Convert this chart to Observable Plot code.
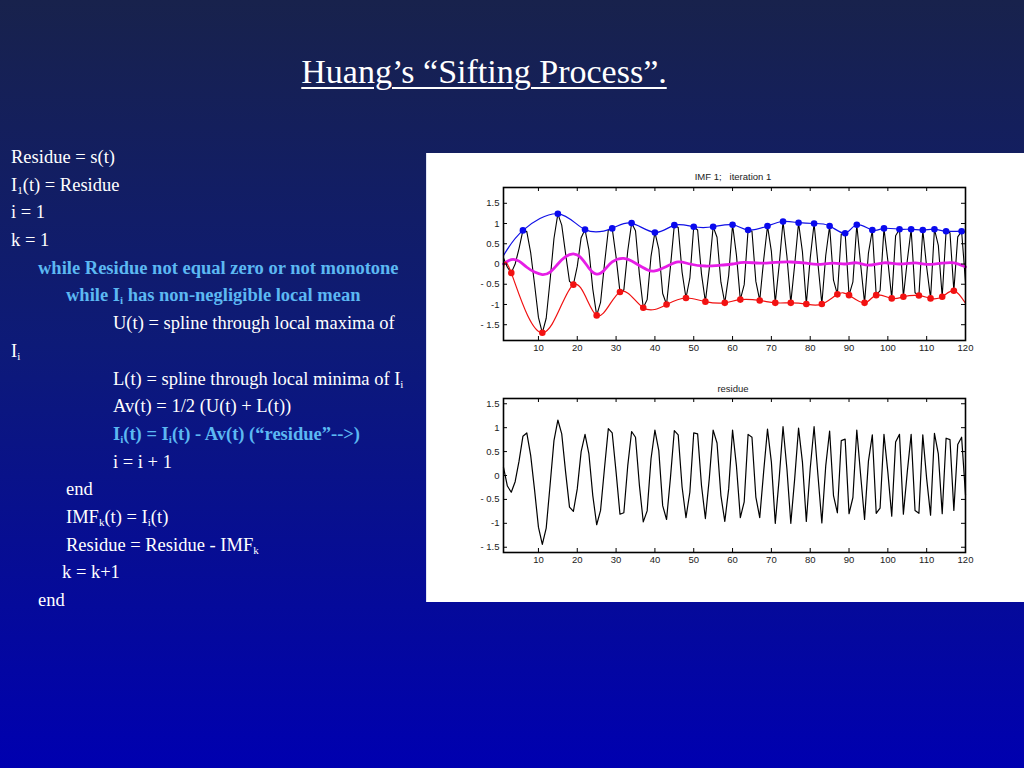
<!DOCTYPE html>
<html><head><meta charset="utf-8">
<script src="https://cdn.jsdelivr.net/npm/d3@7"></script>
<script src="https://cdn.jsdelivr.net/npm/@observablehq/plot@0.6"></script>
<style>
html,body{margin:0;padding:0;}
body{width:1024px;height:768px;overflow:hidden;background:linear-gradient(to bottom,#18224c 0%,#0d1a78 45%,#0000b0 100%);font-family:"Liberation Serif","Times New Roman",serif;}
#slide{position:relative;width:1024px;height:768px;}
.title{position:absolute;left:0;width:968px;top:55px;text-align:center;color:#fff;font-size:34px;line-height:34px;text-decoration:underline;text-decoration-thickness:1.5px;text-underline-offset:4px;}
.line{position:absolute;color:#fff;font-size:18.5px;line-height:18.5px;white-space:nowrap;}
.line sub{font-size:0.6em;vertical-align:-0.25em;line-height:0;}
.blue{color:#5cb8f2;font-weight:bold;}
#panel{position:absolute;left:426px;top:153px;width:598px;height:449px;background:#fff;box-shadow:inset 1px 0 0 #dfe4f4;}
.ptitle{position:absolute;left:0;width:614px;text-align:center;font-family:"Liberation Sans",Arial,sans-serif;font-size:9.5px;color:#222;white-space:pre;}
#c1,#c2{position:absolute;left:0;}
#c1{top:12px;} #c2{top:224px;}
</style></head>
<body><div id="slide">
<div class="title">Huang’s “Sifting Process”.</div>
<div id="text"></div>
<div id="panel">
  <div class="ptitle" style="top:18px">IMF 1;   iteration 1</div>
  <div id="c1"></div>
  <div class="ptitle" style="top:230px">residue</div>
  <div id="c2"></div>
</div>
</div>
<script>
// ---- data ----
const tValues = d3.range(1, 121);
const signal = [0.15,-0.08,-0.22,0.0,0.38,0.83,0.80,0.28,-0.5,-1.32,
 -1.70,-1.34,-0.4,0.63,1.24,0.96,0.25,-0.43,-0.51,-0.06,
 0.65,0.85,0.35,-0.62,-1.27,-0.95,-0.01,0.84,0.88,0.17,
 -0.69,-0.64,0.32,1.01,0.82,-0.25,-1.08,-0.88,0.19,0.78,
 0.37,-0.73,-1.0,-0.07,0.96,0.9,-0.2,-0.84,-0.35,0.92,
 0.84,-0.25,-0.93,-0.12,0.92,0.66,-0.45,-0.96,-0.28,0.97,
 0.22,-0.88,-0.51,0.84,0.81,-0.43,-0.90,0.09,0.94,0.31,
 -0.96,-0.03,1.05,0.19,-0.96,-0.02,1.02,0.3,-0.99,0.14,
 1.0,0.0,-0.99,0.21,0.94,-0.4,-0.75,0.74,0.76,-0.77,
 -0.44,0.97,-0.02,-0.96,0.27,0.84,-0.77,-0.66,0.88,0.08,
 -0.85,0.7,0.86,-0.81,0.08,0.86,-0.71,-0.78,0.84,-0.08,
 -0.85,0.86,0.46,-0.81,0.81,0.77,-0.66,0.67,0.81,-0.45];
const residue = [0.17,-0.22,-0.35,-0.13,0.3,0.82,0.89,0.42,-0.3,-1.08,
 -1.44,-1.1,-0.2,0.73,1.16,0.87,0.07,-0.66,-0.75,-0.28,
 0.5,0.86,0.45,-0.42,-1.03,-0.73,0.14,0.98,0.89,0.07,
 -0.81,-0.78,0.2,0.92,0.8,-0.2,-0.97,-0.74,0.35,0.95,
 0.52,-0.63,-0.92,-0.05,0.94,0.85,-0.24,-0.88,-0.35,0.89,
 0.87,-0.21,-0.9,-0.07,0.95,0.68,-0.42,-0.96,-0.28,0.95,
 0.2,-0.88,-0.55,0.86,0.8,-0.45,-0.88,0.07,0.97,0.28,
 -1.0,-0.07,1.02,0.14,-1.0,-0.07,0.99,0.28,-0.96,0.14,
 1.02,0.0,-0.99,0.2,0.93,-0.42,-0.78,0.73,0.76,-0.8,
 -0.46,0.95,0.0,-0.92,0.3,0.85,-0.79,-0.68,0.86,0.07,
 -0.85,0.7,0.86,-0.81,0.07,0.86,-0.73,-0.79,0.85,-0.07,
 -0.83,0.88,0.45,-0.8,0.78,0.75,-0.73,0.65,0.8,-0.4];
const maxT = [6,15,22,29,34,40,45,50,55,60,64,69,73,77,81,85,89,92,96,99,103,106,109,112,115,119];
const maxV = [0.83,1.24,0.85,0.88,1.01,0.78,0.96,0.92,0.92,0.97,0.84,0.94,1.05,1.02,1.0,0.94,0.76,0.97,0.84,0.88,0.86,0.86,0.84,0.86,0.81,0.81];
const minT = [3,11,19,25,31,37,43,48,53,58,62,67,71,75,79,83,87,90,94,97,101,104,108,111,114,117];
const minV = [-0.22,-1.70,-0.51,-1.27,-0.69,-1.08,-1.0,-0.84,-0.93,-0.96,-0.88,-0.90,-0.96,-0.96,-0.99,-0.99,-0.75,-0.77,-0.96,-0.77,-0.85,-0.81,-0.78,-0.85,-0.81,-0.66];
const upperEnds = [0.21, 0.77];   // envelope value at t=1 and t=120
const lowerEnds = [-0.15, -0.97];
const meanT = [1,3,5,7,9,11,13,15,17,19,21,23,25,27,29,32,35,38,40,43,46,49,53,57,60,63,67,71,75,79,82,86,89,92,95,99,103,107,110,114,117,120];
const meanV = [0.0,0.11,0.07,-0.08,-0.2,-0.26,-0.2,0.0,0.18,0.25,0.15,-0.1,-0.25,-0.15,0.05,0.14,0.02,-0.14,-0.17,-0.06,0.05,0.0,-0.05,-0.03,0.0,0.04,0.02,0.04,0.05,0.02,-0.01,0.02,0.0,0.03,-0.03,0.03,0.0,0.03,-0.01,0.02,0.03,-0.07];
const xTicks = [10,20,30,40,50,60,70,80,90,100,110,120];
const yTicks = [-1.5,-1,-0.5,0,0.5,1,1.5];
const yTickLabels = ["- 1.5","-1","- 0.5","0","0.5","1","1.5"];

// ---- text ----
const lines = [
 [11,"", "Residue = s(t)"],
 [11,"", "I<sub>1</sub>(t) = Residue"],
 [11,"", "i = 1"],
 [11,"", "k = 1"],
 [38,"blue", "while Residue not equal zero or not monotone"],
 [66,"blue", "while I<sub>i</sub> has non-negligible local mean"],
 [113,"", "U(t) = spline through local maxima of"],
 [11,"", "I<sub>i</sub>"],
 [113,"", "L(t) = spline through local minima of I<sub>i</sub>"],
 [113,"", "Av(t) = 1/2 (U(t) + L(t))"],
 [113,"blue", "I<sub>i</sub>(t) = I<sub>i</sub>(t) - Av(t) (“residue”--&gt;)"],
 [113,"", "i = i + 1"],
 [66,"", "end"],
 [66,"", "IMF<sub>k</sub>(t) = I<sub>i</sub>(t)"],
 [66,"", "Residue = Residue - IMF<sub>k</sub>"],
 [62,"", "k = k+1"],
 [38,"", "end"]
];
const textDiv = document.getElementById("text");
lines.forEach(([x, cls, html], i) => {
  const d = document.createElement("div");
  d.className = "line " + cls;
  d.style.left = x + "px";
  d.style.top = (148 + i * 27.69) + "px";
  d.innerHTML = html;
  textDiv.appendChild(d);
});

// ---- charts ----
const W = 598, ML = 77, MR = 59;
function chart(h, mt, mb, yDomain, marks) {
  const innerW = W - ML - MR, innerH = h - mt - mb;
  return Plot.plot({
    width: W, height: h, marginLeft: ML, marginRight: MR, marginTop: mt, marginBottom: mb,
    x: {domain: [1, 120]}, y: {domain: yDomain},
    style: {background: "transparent", fontFamily: "'Liberation Sans', Arial, sans-serif", fontSize: "9.5px", color: "#222", overflow: "visible"},
    marks: [
      ...marks,
      Plot.tickX(xTicks, {x: d => d, stroke: "#000", insetTop: innerH - 4}),
      Plot.tickX(xTicks, {x: d => d, stroke: "#000", insetBottom: innerH - 4}),
      Plot.tickY(yTicks, {y: d => d, stroke: "#000", insetRight: innerW - 4}),
      Plot.tickY(yTicks, {y: d => d, stroke: "#000", insetLeft: innerW - 4}),
      Plot.axisX(xTicks, {tickSize: 0, tickPadding: 4, label: null, tickFormat: d => String(d)}),
      Plot.axisY(yTicks, {tickSize: 0, tickPadding: 4, label: null, tickFormat: d => yTickLabels[yTicks.indexOf(d)]}),
      Plot.frame({stroke: "#000", strokeWidth: 1.6})
    ]
  });
}

const sig = tValues.map((t, i) => ({t, v: signal[i]}));
const res = tValues.map((t, i) => ({t, v: residue[i]}));
const maxPts = maxT.map((t, i) => ({t, v: maxV[i]}));
const minPts = minT.map((t, i) => ({t, v: minV[i]}));
const upper = [{t: 1, v: upperEnds[0]}, ...maxPts, {t: 120, v: upperEnds[1]}];
const lower = [{t: 1, v: lowerEnds[0]}, ...minPts, {t: 120, v: lowerEnds[1]}];
const mean = meanT.map((t, i) => ({t, v: meanV[i]}));

document.getElementById("c1").append(chart(200, 22, 25, [-1.89, 1.89], [
  Plot.line(sig, {x: "t", y: "v", stroke: "#000", strokeWidth: 1.1}),
  Plot.line(mean, {x: "t", y: "v", stroke: "#e61ee6", strokeWidth: 2.8, curve: "natural"}),
  Plot.line(upper, {x: "t", y: "v", stroke: "#1010e6", strokeWidth: 1.2, curve: "natural"}),
  Plot.line(lower, {x: "t", y: "v", stroke: "#f01010", strokeWidth: 1.2, curve: "natural"}),
  Plot.dot(maxPts, {x: "t", y: "v", fill: "#0a0aee", r: 3.3}),
  Plot.dot(minPts, {x: "t", y: "v", fill: "#f21212", r: 3.3})
]));

document.getElementById("c2").append(chart(200, 21, 25, [-1.61, 1.61], [
  Plot.line(res, {x: "t", y: "v", stroke: "#000", strokeWidth: 1.2})
]));
</script>
</body></html>
